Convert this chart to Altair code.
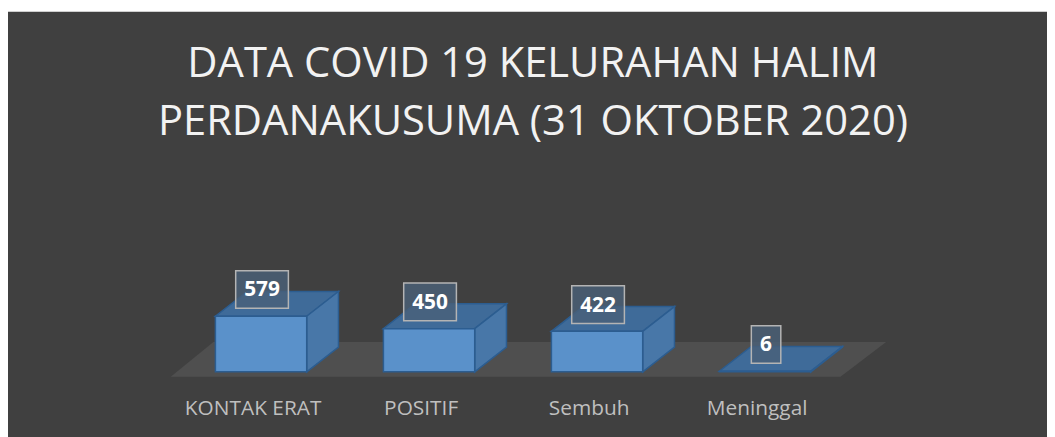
import altair as alt
import pandas as pd

TITLE_LINES = ["DATA COVID 19 KELURAHAN HALIM", "PERDANAKUSUMA (31 OKTOBER 2020)"]
CATEGORIES = ["KONTAK ERAT", "POSITIF", "Sembuh", "Meninggal"]
VALUES = [579, 450, 422, 6]

# ---- layout (pixels -> scale units) ----
TOP_PAD = 2
W, H = 1047, 429
PX_PER_CAT = 169.3
PX_PER_VAL = 56 / 579
X0_PX = 255      # view x of first category centre
Y0_PX = 363      # view y of value 0
XMIN = -X0_PX / PX_PER_CAT
XMAX = (W - X0_PX) / PX_PER_CAT
YMIN = -(H - Y0_PX) / PX_PER_VAL
YMAX = Y0_PX / PX_PER_VAL

HALF = 46 / PX_PER_CAT
DX = 32 / PX_PER_CAT
DY = 25 / PX_PER_VAL
n = len(CATEGORIES)

xs = alt.Scale(domain=[XMIN, XMAX], nice=False, zero=False)
ys = alt.Scale(domain=[YMIN, YMAX], nice=False, zero=False)

# floor
floor = pd.DataFrame({
    "y": [-5 / PX_PER_VAL, 30 / PX_PER_VAL],
    "x": [-91 / PX_PER_CAT, -48 / PX_PER_CAT],
    "x2": [(n - 1) + 76 / PX_PER_CAT, (n - 1) + 122 / PX_PER_CAT],
})

front_rows, top_rows, side_rows, box_rows, lab_rows = [], [], [], [], []
for i, (c, v) in enumerate(zip(CATEGORIES, VALUES)):
    xl, xr = i - HALF, i + HALF
    front_rows.append({"cat": c, "x": xl, "x2": xr, "y": 0, "y2": v})
    top_rows += [
        {"cat": c, "y": v, "x": xl, "x2": xr},
        {"cat": c, "y": v + DY, "x": xl + DX, "x2": xr + DX},
    ]
    side_rows += [
        {"cat": c, "x": xr, "y": v, "y2": 0},
        {"cat": c, "x": xr + DX, "y": v + DY, "y2": DY},
    ]
    nd = len(str(v))
    hw = (11.7 * nd + 18) / 2 / PX_PER_CAT
    cx = i + 1 / PX_PER_CAT
    cy = v + 27 / PX_PER_VAL
    hh = 19 / PX_PER_VAL
    box_rows.append({"cat": c, "val": str(v), "x": cx - hw, "x2": cx + hw,
                     "y": cy - hh, "y2": cy + hh, "cx": cx, "cy": cy})
    lab_rows.append({"cat": c, "x": i - 8 / PX_PER_CAT, "y": -43.7 / PX_PER_VAL})

front = pd.DataFrame(front_rows)
top = pd.DataFrame(top_rows)
side = pd.DataFrame(side_rows)
boxes = pd.DataFrame(box_rows)
labs = pd.DataFrame(lab_rows)

EDGE = "#2c5d90"

floor_l = alt.Chart(floor).mark_area(orient="horizontal", color="#4f4f4f").encode(
    y=alt.Y("y:Q", scale=ys, axis=None),
    x=alt.X("x:Q", scale=xs, axis=None),
    x2="x2:Q",
)

top_l = alt.Chart(top).mark_area(orient="horizontal", color="#3f6b99",
                                 stroke=EDGE, strokeWidth=1.5).encode(
    y=alt.Y("y:Q", scale=ys, axis=None),
    x=alt.X("x:Q", scale=xs, axis=None),
    x2="x2:Q",
    detail="cat:N",
)

side_l = alt.Chart(side).mark_area(color="#4877a8", stroke=EDGE, strokeWidth=1.5).encode(
    x=alt.X("x:Q", scale=xs, axis=None),
    y=alt.Y("y:Q", scale=ys, axis=None),
    y2="y2:Q",
    detail="cat:N",
)

front_l = alt.Chart(front).mark_rect(color="#5a91ca", stroke=EDGE, strokeWidth=1.5).encode(
    x=alt.X("x:Q", scale=xs, axis=None),
    x2="x2:Q",
    y=alt.Y("y:Q", scale=ys, axis=None),
    y2="y2:Q",
)

box_l = alt.Chart(boxes).mark_rect(fill="#4a6078", fillOpacity=0.8,
                                   stroke="#b4b4b4", strokeWidth=1.5).encode(
    x=alt.X("x:Q", scale=xs, axis=None),
    x2="x2:Q",
    y=alt.Y("y:Q", scale=ys, axis=None),
    y2="y2:Q",
)

val_l = alt.Chart(boxes).mark_text(font="Open Sans", fontSize=21, fontWeight="bold",
                                   color="#ffffff", baseline="middle", dy=1).encode(
    x=alt.X("cx:Q", scale=xs, axis=None),
    y=alt.Y("cy:Q", scale=ys, axis=None),
    text="val:N",
)

cat_l = alt.Chart(labs).mark_text(font="Open Sans", fontSize=21, color="#bfbfbf",
                                  baseline="alphabetic").encode(
    x=alt.X("x:Q", scale=xs, axis=None),
    y=alt.Y("y:Q", scale=ys, axis=None),
    text="cat:N",
)

t1 = alt.Chart(pd.DataFrame({"t": [TITLE_LINES[0]]})).mark_text(
    font="Open Sans", fontSize=42, color="#f2f2f2", baseline="alphabetic"
).encode(x=alt.value(529), y=alt.value(66), text="t:N")
t2 = alt.Chart(pd.DataFrame({"t": [TITLE_LINES[1]]})).mark_text(
    font="Open Sans", fontSize=42, color="#f2f2f2", baseline="alphabetic"
).encode(x=alt.value(529), y=alt.value(124.5), text="t:N")

chart = alt.layer(floor_l, top_l, side_l, front_l, box_l, val_l, cat_l, t1, t2).properties(
    width=W, height=H, background="#ffffff",
    padding={"top": TOP_PAD, "left": 0, "right": 0, "bottom": 0}, autosize="none"
).configure_view(strokeWidth=0, fill="#404040")

chart.save("out.html", embed_options={"renderer": "svg", "actions": False})
